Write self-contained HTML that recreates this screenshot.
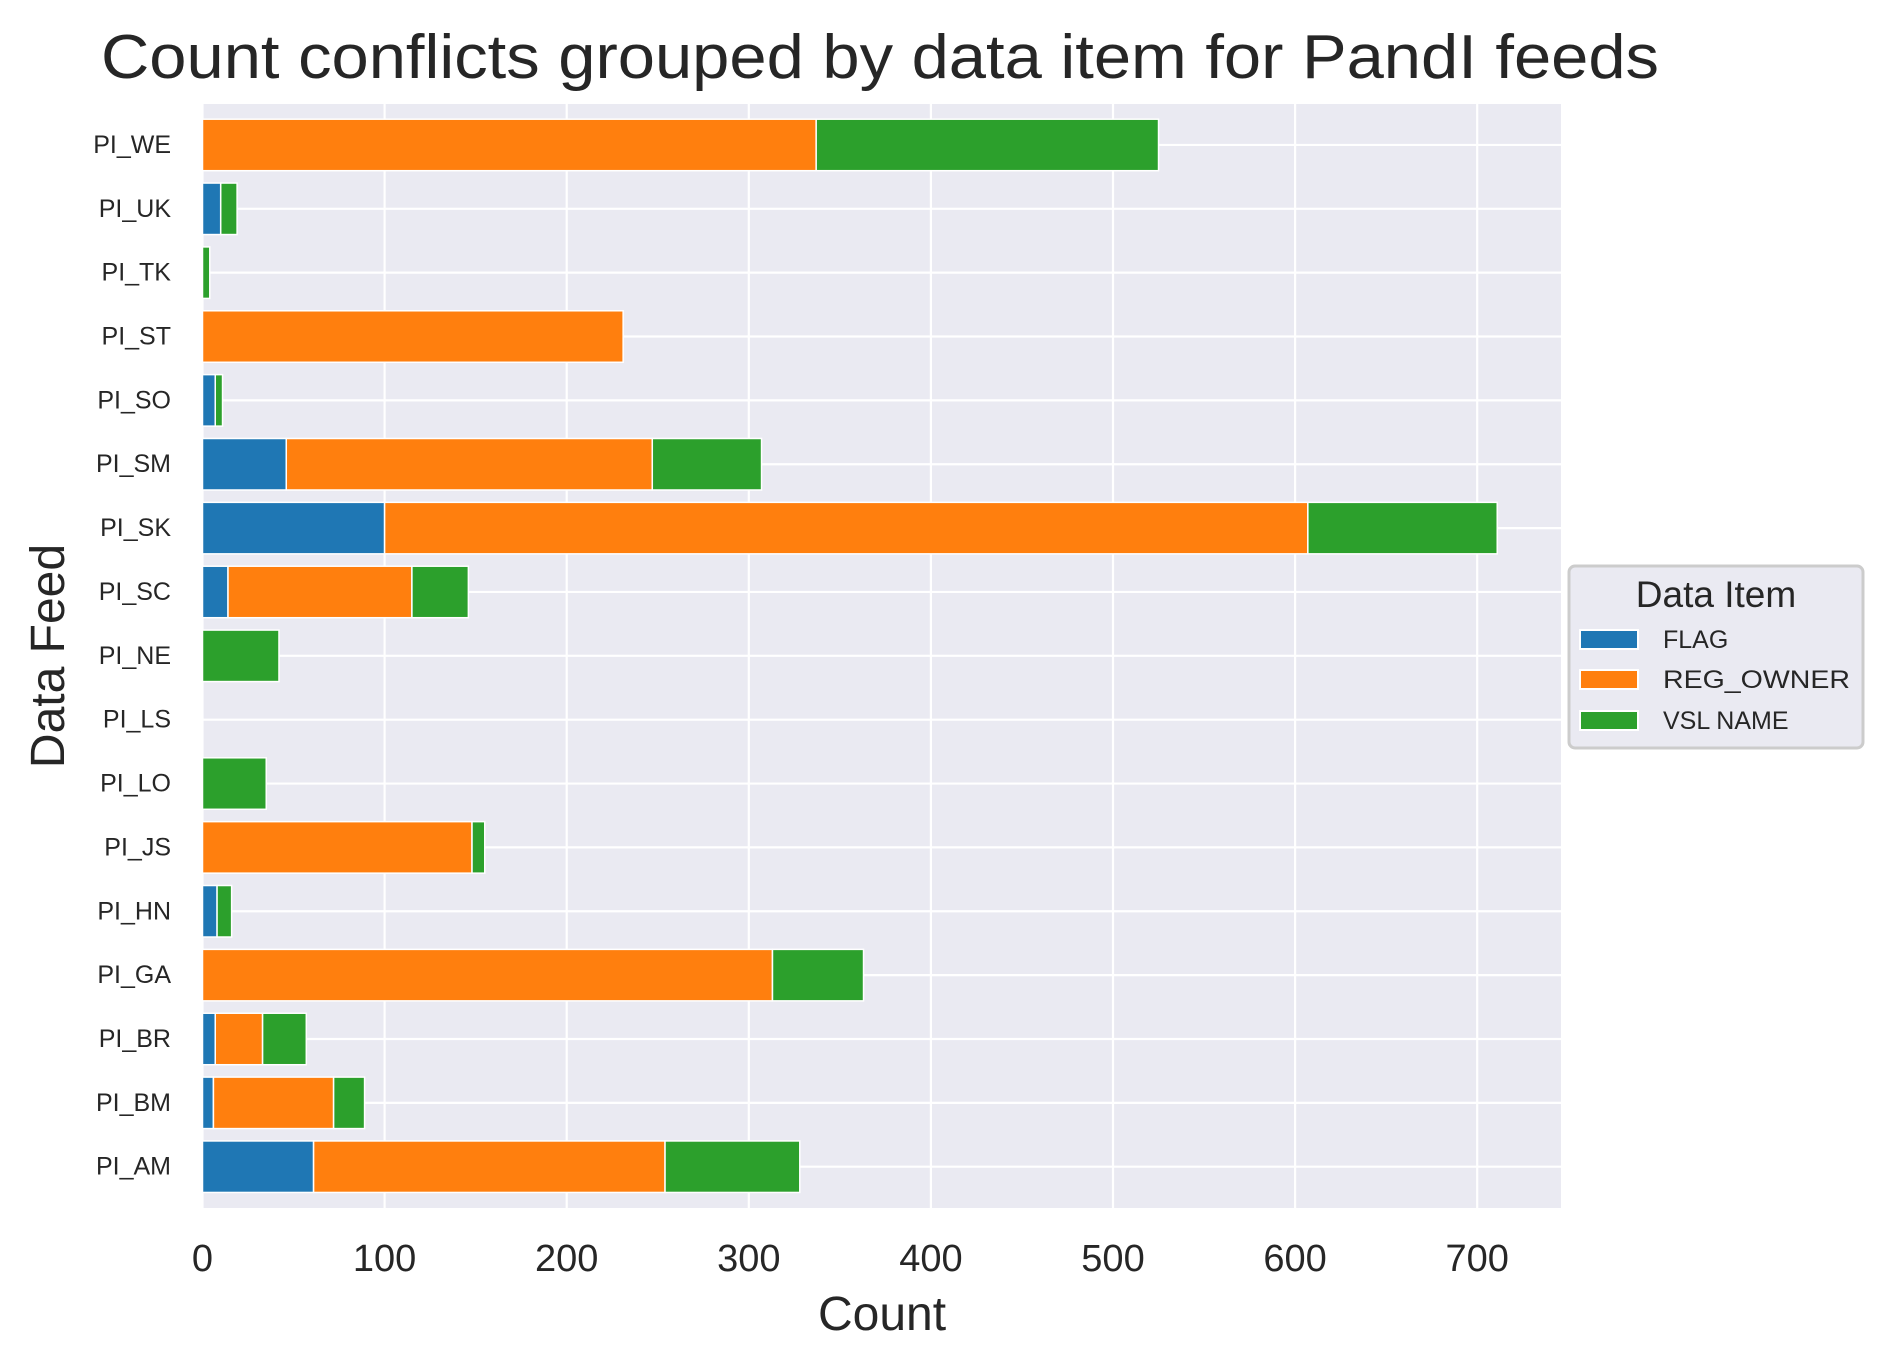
<!DOCTYPE html>
<html><head><meta charset="utf-8"><style>
html,body{margin:0;padding:0;background:#fff;}
svg{display:block;font-family:"Liberation Sans",Arial,sans-serif;}
</style></head><body>
<svg id="chart" width="1892" height="1370" viewBox="0 0 1892 1370">
<text x="101" y="78" font-size="62" fill="#262626" textLength="1558" lengthAdjust="spacingAndGlyphs">Count conflicts grouped by data item for PandI feeds</text>
<rect x="202" y="104" width="1359" height="1104" fill="#eaeaf2"/>
<g id="grid"></g>
<g id="bars"></g>
<g id="yticks"></g>
<g id="xticks"></g>
<text x="882" y="1330" font-size="48" fill="#262626" text-anchor="middle">Count</text>
<text transform="translate(64,656) rotate(-90)" font-size="48" fill="#262626" text-anchor="middle">Data Feed</text>
<g>
<rect x="1569" y="566" width="294" height="182" rx="6" fill="#eaeaf2" stroke="#cccccc" stroke-width="3"/>
<text x="1716" y="607" font-size="37" fill="#262626" text-anchor="middle">Data Item</text>
<rect x="1580" y="630" width="58" height="19" fill="#1f77b4" stroke="#fff" stroke-width="2"/>
<text x="1663" y="648" font-size="25" fill="#262626">FLAG</text>
<rect x="1580" y="670" width="58" height="19" fill="#ff7f0e" stroke="#fff" stroke-width="2"/>
<text x="1663" y="688" font-size="25" fill="#262626" textLength="187" lengthAdjust="spacingAndGlyphs">REG_OWNER</text>
<rect x="1580" y="711" width="58" height="19" fill="#2ca02c" stroke="#fff" stroke-width="2"/>
<text x="1663" y="729" font-size="25" fill="#262626">VSL NAME</text>
</g>
</svg>
<script>
const categories = ["PI_AM","PI_BM","PI_BR","PI_GA","PI_HN","PI_JS","PI_LO","PI_LS","PI_NE","PI_SC","PI_SK","PI_SM","PI_SO","PI_ST","PI_TK","PI_UK","PI_WE"];
const flagValues = [61,6,7,0,8,0,0,0,0,14,100,46,7,0,0,10,0];
const regOwnerValues = [193,66,26,313,0,148,0,0,0,101,507,201,0,231,0,0,337];
const vslNameValues = [74,17,24,50,8,7,35,0,42,31,104,60,4,0,4,9,188];
const xTicks = [0,100,200,300,400,500,600,700];

const NS = "http://www.w3.org/2000/svg";
const X0 = 202.5, XS = (1477.2 - 202.5) / 700;
const xScale = v => X0 + v * XS;
const yScale = i => 1166.7 - i * 63.86;
const barH = 51.5;
function mk(tag, attrs, parent) {
  const e = document.createElementNS(NS, tag);
  for (const k in attrs) e.setAttribute(k, attrs[k]);
  parent.appendChild(e);
  return e;
}
const grid = document.getElementById('grid');
xTicks.forEach(t => {
  const l = mk('line', {x1: xScale(t), x2: xScale(t), y1: 104, y2: 1208, stroke: '#fff', 'stroke-width': 2.2}, grid);
  
  
});
categories.forEach((c, i) => {
  const l = mk('line', {x1: 202, x2: 1561, y1: yScale(i), y2: yScale(i), stroke: '#fff', 'stroke-width': 2.2}, grid);
  
  
});
const bars = document.getElementById('bars');
const series = [[flagValues, '#1f77b4', 'flag'], [regOwnerValues, '#ff7f0e', 'reg-owner'], [vslNameValues, '#2ca02c', 'vsl-name']];
categories.forEach((c, i) => {
  let acc = 0;
  series.forEach(([vals, col, nm]) => {
    const v = vals[i];
    const r = mk('rect', {x: xScale(acc), y: yScale(i) - barH / 2, width: Math.max(0, xScale(acc + v) - xScale(acc)), height: barH, fill: col, stroke: '#fff', 'stroke-width': 1.5}, bars);
    
    
    acc += v;
  });
});
const yt = document.getElementById('yticks');
categories.forEach((c, i) => {
  const t = mk('text', {x: 171, y: yScale(i) + 8, 'font-size': 25, fill: '#262626', 'text-anchor': 'end'}, yt);
  t.textContent = c;
  
  
});
const xt = document.getElementById('xticks');
xTicks.forEach(v => {
  const t = mk('text', {x: xScale(v), y: 1271, 'font-size': 38, fill: '#262626', 'text-anchor': 'middle'}, xt);
  t.textContent = v;
  
  
});
</script>
</body></html>
